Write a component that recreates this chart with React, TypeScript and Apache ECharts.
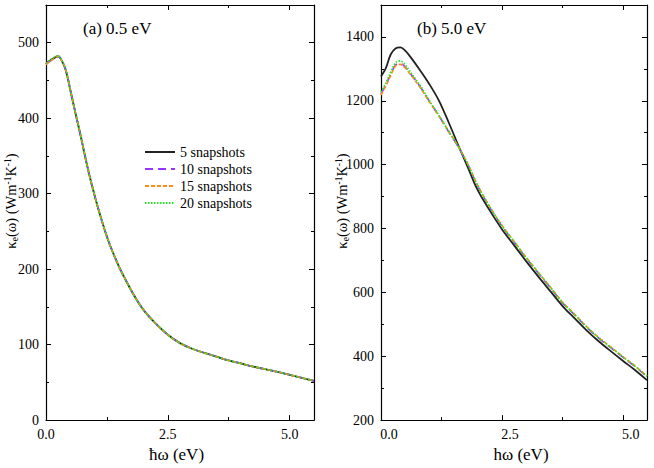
import React, { useEffect, useRef } from "react";
import * as echarts from "echarts";

const FONT = "'Liberation Serif', 'Times New Roman', serif";

// ---- data ----
const SERIES_NAMES = ["5 snapshots", "10 snapshots", "15 snapshots", "20 snapshots"];

const leftX = [0, 0.1, 0.2, 0.25, 0.3, 0.4, 0.5, 0.6, 0.7, 0.8, 0.9, 1.0, 1.1, 1.2, 1.3, 1.4, 1.5, 1.6, 1.8, 2.0, 2.25, 2.5, 2.75, 3.0, 3.25, 3.5, 3.75, 4.0, 4.25, 4.5, 4.75, 5.0, 5.25, 5.5];
const left5 = [472, 477, 481, 482, 479, 465, 437, 408, 380, 350, 322, 297, 274, 253, 234, 218, 203, 190, 166, 146, 128, 113, 102, 94.5, 89, 84, 79, 75, 71, 67.5, 64, 60, 56, 52];
const left10 = [472, 477, 481, 482, 479, 465, 438, 408, 380, 350, 322, 297, 274, 253, 234, 218, 203, 190, 166, 146, 128, 113, 102, 94.5, 89, 84, 79, 75, 71, 67.5, 64, 60, 56, 52];
const left15 = [471, 476, 481, 482, 479, 465, 437, 408, 381, 350, 322, 297, 274, 253, 234, 218, 203, 190, 166, 146, 128, 113, 102, 94.5, 89, 84, 79, 75, 71, 67.5, 64, 60, 56, 52];
const left20 = [473, 478, 482, 483, 480, 466, 438, 409, 381, 351, 322, 297, 274, 253, 234, 218, 203, 190, 166, 146, 128, 113, 102, 94.5, 89, 84, 79, 75, 71, 67.5, 64, 60, 56, 52];

const rightX = [0, 0.1, 0.2, 0.3, 0.4, 0.5, 0.6, 0.8, 1.0, 1.2, 1.4, 1.6, 1.8, 2.0, 2.25, 2.5, 2.75, 3.0, 3.25, 3.5, 3.75, 4.0, 4.25, 4.5, 4.75, 5.0, 5.25, 5.5];
const right5 = [1276, 1302, 1345, 1364, 1367, 1357, 1339, 1297, 1252, 1200, 1132, 1060, 990, 920, 856, 798, 748, 698, 650, 604, 558, 519, 481, 447, 416, 386, 357, 325];
const right10 = [1222, 1250, 1282, 1312, 1317, 1306, 1287, 1246, 1198, 1152, 1103, 1055, 999, 933, 866, 808, 758, 708, 661, 615, 568, 530, 491, 457, 427, 397, 368, 336];
const right15 = [1218, 1246, 1279, 1309, 1314, 1303, 1284, 1244, 1197, 1152, 1104, 1057, 1001, 935, 868, 810, 760, 710, 663, 617, 570, 532, 493, 459, 429, 399, 370, 338];
const right20 = [1228, 1256, 1290, 1319, 1325, 1313, 1292, 1250, 1201, 1154, 1105, 1056, 1000, 934, 867, 809, 759, 709, 662, 616, 569, 531, 492, 458, 428, 398, 369, 337];

const X_MAJOR = [0, 2.5, 5];
const X_MINOR = [1.25, 3.75];
const LEFT_Y_MAJOR = [0, 100, 200, 300, 400, 500];
const LEFT_Y_MINOR = [50, 150, 250, 350, 450];
const RIGHT_Y_MAJOR = [200, 400, 600, 800, 1000, 1200, 1400];
const RIGHT_Y_MINOR = [300, 500, 700, 900, 1100, 1300];

const STYLES = [
  { color: "#222222", type: "solid" as any, width: 1.8 },
  { color: "#9933ff", type: [8, 5] as any, width: 1.6 },
  { color: "#ff8c1a", type: [4, 2] as any, width: 1.6 },
  { color: "#22e622", type: [1.5, 1.5] as any, width: 1.6 },
];

function pairs(xs: number[], ys: number[]) {
  return xs.map((x, i) => [x, ys[i]]);
}

const AXIS_LINE = { color: "#000", width: 1.2 };

function axisDef(gridIndex: number, position: string, min: number, max: number, values: number[], len: number, withLine: boolean, label?: any, name?: any) {
  const a: any = {
    type: "value",
    gridIndex,
    position,
    min,
    max,
    axisLine: { show: withLine, onZero: false, lineStyle: AXIS_LINE },
    axisTick: { show: true, inside: true, length: len, customValues: values, lineStyle: { color: "#000", width: 1 } },
    minorTick: { show: false },
    splitLine: { show: false },
    axisLabel: label ? { ...label, customValues: values } : { show: false },
  };
  if (name) Object.assign(a, name);
  return a;
}

const xLabel = (extra: any = {}) => ({
  show: true,
  margin: 7,
  fontSize: 14,
  fontFamily: FONT,
  color: "#000",
  formatter: (v: number) => v.toFixed(1),
  ...extra,
});
const yLabel = {
  show: true,
  margin: 7,
  fontSize: 14,
  fontFamily: FONT,
  color: "#000",
  formatter: (v: number) => String(Math.round(v)),
};

export default function App() {
  const ref = useRef<HTMLDivElement>(null);
  useEffect(() => {
    if (!ref.current) return;
    const chart = echarts.init(ref.current, undefined, { renderer: "svg" });

    const xAxis = [
      axisDef(0, "bottom", 0, 5.5, X_MAJOR, 5, true, xLabel(), {
        name: "ħω (eV)",
        nameLocation: "middle",
        nameGap: 24,
        nameTextStyle: { fontSize: 17, fontFamily: FONT, color: "#000", padding: [0, 7, 0, 0] },
      }),
      axisDef(0, "bottom", 0, 5.5, X_MINOR, 3, false),
      axisDef(0, "top", 0, 5.5, X_MAJOR, 5, true),
      axisDef(0, "top", 0, 5.5, X_MINOR, 3, false),
      axisDef(1, "bottom", 0, 5.5, X_MAJOR, 5, true, xLabel({ padding: [0, 0, 0, 16] }), {
        name: "hω (eV)",
        nameLocation: "middle",
        nameGap: 24,
        nameTextStyle: { fontSize: 17, fontFamily: FONT, color: "#000", padding: [0, 0, 0, 14] },
      }),
      axisDef(1, "bottom", 0, 5.5, X_MINOR, 3, false),
      axisDef(1, "top", 0, 5.5, X_MAJOR, 5, true),
      axisDef(1, "top", 0, 5.5, X_MINOR, 3, false),
    ];
    const yAxis = [
      axisDef(0, "left", 0, 550, LEFT_Y_MAJOR, 5, true, yLabel),
      axisDef(0, "left", 0, 550, LEFT_Y_MINOR, 3, false),
      axisDef(0, "right", 0, 550, LEFT_Y_MAJOR, 5, true),
      axisDef(0, "right", 0, 550, LEFT_Y_MINOR, 3, false),
      axisDef(1, "left", 200, 1500, RIGHT_Y_MAJOR, 5, true, yLabel),
      axisDef(1, "left", 200, 1500, RIGHT_Y_MINOR, 3, false),
      axisDef(1, "right", 200, 1500, RIGHT_Y_MAJOR, 5, true),
      axisDef(1, "right", 200, 1500, RIGHT_Y_MINOR, 3, false),
    ];

    const leftData = [left5, left10, left15, left20];
    const rightData = [right5, right10, right15, right20];

    const series: any[] = [];
    const mk = (d: number[], xs: number[], i: number, axisIdx: number) => ({
      type: "line",
      name: SERIES_NAMES[i],
      xAxisIndex: axisIdx,
      yAxisIndex: axisIdx,
      data: pairs(xs, d),
      showSymbol: false,
      symbol: "none",
      smooth: 0.35,
      lineStyle: { color: STYLES[i].color, type: STYLES[i].type, width: STYLES[i].width },
      itemStyle: { color: "rgba(0,0,0,0)" },
      z: 2 + i,
    });
    leftData.forEach((d, i) => series.push(mk(d, leftX, i, 0)));
    rightData.forEach((d, i) => series.push(mk(d, rightX, i, 4)));

    const yTitle = (x: number, y: number) => ({
      type: "text",
      x,
      y,
      rotation: Math.PI / 2,
      style: {
        text: "κ{sub|e}(ω) (Wm{sup|-1}K{sup|-1})",
        fontSize: 14.5,
        fontFamily: FONT,
        fill: "#000",
        lineHeight: 17,
        align: "center",
        verticalAlign: "middle",
        textAlign: "center",
        textVerticalAlign: "middle",
        rich: {
          sub: { fontSize: 9.5, fontFamily: FONT, fill: "#000", verticalAlign: "bottom" },
          sup: { fontSize: 9.5, fontFamily: FONT, fill: "#000", verticalAlign: "top" },
        },
      },
    });

    chart.setOption({
      animation: false,
      backgroundColor: "#ffffff",
      textStyle: { fontFamily: FONT },
      grid: [
        { left: 46, top: 5, width: 268, height: 418 },
        { left: 381, top: 5, width: 266, height: 419 },
      ],
      xAxis,
      yAxis,
      legend: {
        data: SERIES_NAMES,
        orient: "vertical",
        left: 144,
        top: 145,
        padding: 0,
        itemWidth: 30,
        itemHeight: 12,
        itemGap: 3,
        itemStyle: { opacity: 0 },
        textStyle: { fontSize: 14, fontFamily: FONT, color: "#000" },
        selectedMode: false,
      },
      graphic: [
        { type: "text", left: 83, top: 20, style: { text: "(a) 0.5 eV", fontSize: 17, fontFamily: FONT, fill: "#000" } },
        { type: "text", left: 417, top: 20, style: { text: "(b) 5.0 eV", fontSize: 17, fontFamily: FONT, fill: "#000" } },
        yTitle(11, 201),
        yTitle(342, 201),
      ],
      series,
    });
    return () => chart.dispose();
  }, []);
  return <div ref={ref} style={{ position: "absolute", left: 0, top: 0, width: 654, height: 468 }} />;
}
